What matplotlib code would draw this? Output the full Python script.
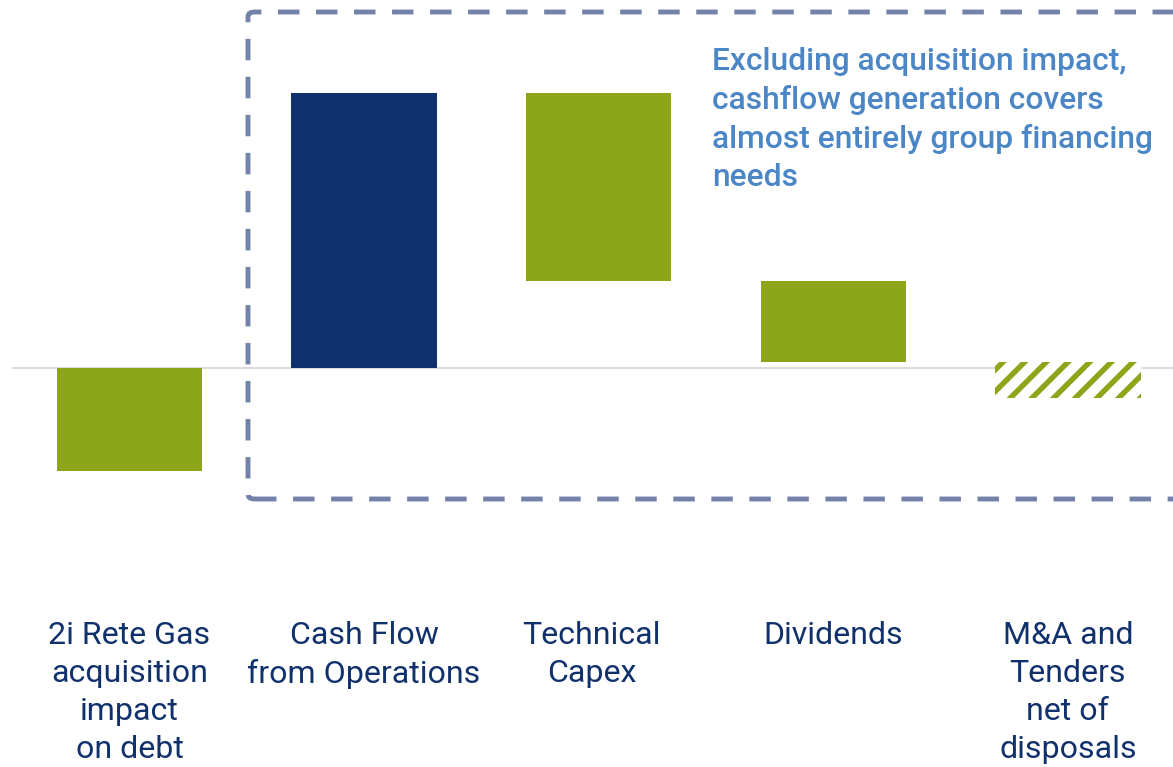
import matplotlib.pyplot as plt
from matplotlib.patches import FancyBboxPatch
from matplotlib.transforms import blended_transform_factory

# --- DATA (EUR bn, bridge of net debt drivers) ---
categories = ['2i Rete Gas\nacquisition\nimpact\non debt',
              'Cash Flow\nfrom Operations',
              'Technical\nCapex',
              'Dividends',
              'M&A and\nTenders\nnet of\ndisposals']
changes = [-1.03, 2.75, -1.88, -0.81, -0.36]
# the acquisition bar stands alone, the rest is a running bridge from zero
starts_new = [True, True, False, False, False]
note = ('Excluding acquisition impact,\ncashflow generation covers\n'
        'almost entirely group financing\nneeds')

GREEN = '#8da519'
NAVY = '#10316b'
NOTE_BLUE = '#4b86c6'
BOX = '#7282a8'

plt.rcParams['font.family'] = ['Roboto', 'DejaVu Sans']
plt.rcParams['hatch.linewidth'] = 3.0

DPI = 130
fig = plt.figure(figsize=(1173 / DPI, 767 / DPI), dpi=DPI)
ax = fig.add_axes([0, 0, 1, 1])
ax.set_xlim(-0.552, 4.448)
ax.set_ylim(-3.99, 3.68)
ax.axis('off')

# zero line
ax.hlines(0, -0.5, 4.6, color='#d9d9d9', linewidth=1.0, zorder=1)

# waterfall bars
level = 0.0
last = len(categories) - 1
for i, (d, new) in enumerate(zip(changes, starts_new)):
    base = 0.0 if new else level
    if i == last:
        # still open items: hatched
        ax.bar(i, d, bottom=base, width=0.62, facecolor='white',
               edgecolor=GREEN, linewidth=0, hatch='//', zorder=2)
    else:
        color = NAVY if (d > 0 and i > 0) else GREEN
        ax.bar(i, d, bottom=base, width=0.62, color=color, zorder=2)
    level = 0.0 if i == 0 else base + d

# category labels under the chart (small nudges as in the slide)
nudge = [0, 0, -0.03, 0, 0]
trans = blended_transform_factory(ax.transData, ax.transAxes)
for i, cat in enumerate(categories):
    ax.text(i + nudge[i], 1 - 621 / 767, cat, transform=trans, ha='center',
            va='top', fontsize=17.8, color=NAVY, linespacing=1.395)

# dashed frame around the operating items
frame = FancyBboxPatch((248 / 1173, 1 - 499 / 767), 0.9, (499 - 12) / 767,
                       boxstyle='round,pad=0,rounding_size=0.006',
                       transform=fig.transFigure, fill=False, edgecolor=BOX,
                       linewidth=2.7, linestyle=(0, (4.4, 3.4)), zorder=3)
fig.patches.append(frame)

fig.text(712 / 1173, 1 - 47 / 767, note, ha='left', va='top', fontsize=17.6,
         color=NOTE_BLUE, fontweight='medium', linespacing=1.38)

fig.savefig('out.png', dpi=DPI)
